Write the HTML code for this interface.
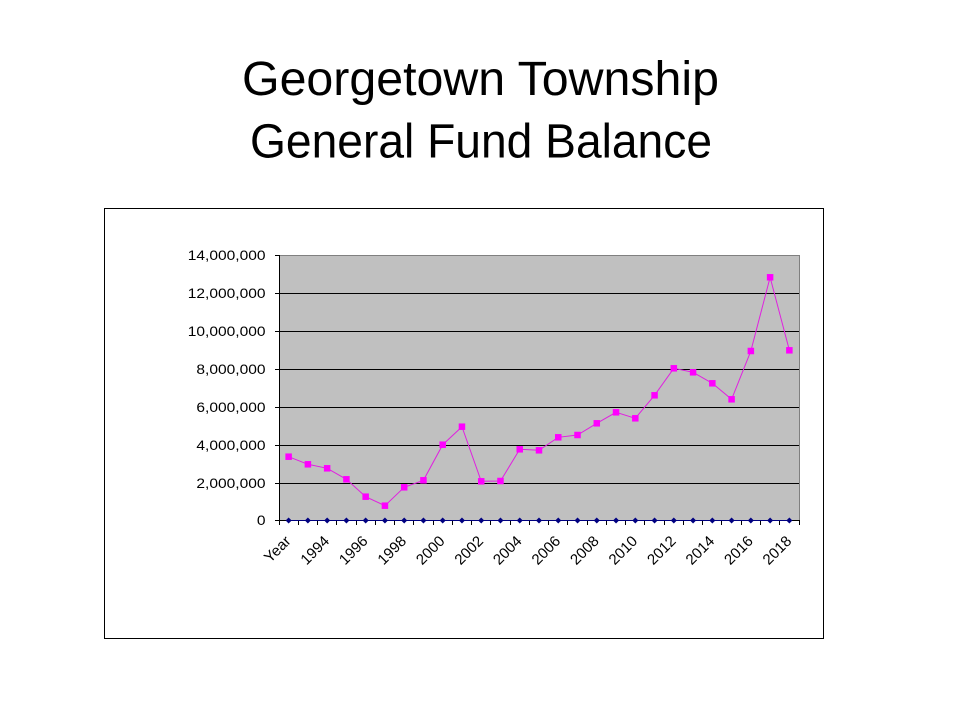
<!DOCTYPE html>
<html><head><meta charset="utf-8"><style>
html,body{margin:0;padding:0;background:#fff;}
svg{display:block;}
</style></head><body>
<svg width="960" height="720" viewBox="0 0 960 720" xmlns="http://www.w3.org/2000/svg">
<defs>
<marker id="sq" markerUnits="userSpaceOnUse" markerWidth="8" markerHeight="8" refX="4" refY="4" viewBox="0 0 8 8">
<rect x="0.75" y="0.75" width="6.5" height="6.5" fill="#FF00FF"/>
</marker>
<marker id="dm" markerUnits="userSpaceOnUse" markerWidth="8" markerHeight="8" refX="4" refY="4" viewBox="0 0 8 8">
<path d="M4,1 L7,4 L4,7 L1,4 Z" fill="#000080"/>
</marker>
</defs>
<rect width="960" height="720" fill="#fff"/>
<text x="480.5" y="95" font-family="Liberation Sans, sans-serif" font-size="48" text-anchor="middle" textLength="477" lengthAdjust="spacingAndGlyphs" fill="#000">Georgetown Township</text>
<text x="481" y="157.5" font-family="Liberation Sans, sans-serif" font-size="48" text-anchor="middle" textLength="462" lengthAdjust="spacingAndGlyphs" fill="#000">General Fund Balance</text>

<rect x="104.5" y="208.5" width="719" height="430" fill="#fff" stroke="#000" stroke-width="1"/>

<rect x="279" y="255" width="520" height="265" fill="#C0C0C0"/>
<path d="M279,255.5 H799.5 V520" stroke="#808080" stroke-width="1" fill="none"/>
<g stroke="#000" stroke-width="1" fill="none">
<path d="M279,293.5 H799 M279,331.5 H799 M279,369.5 H799 M279,407.5 H799 M279,445.5 H799 M279,483.5 H799"/>
<path d="M279.5,255 V521"/>
<path d="M275,255.5 H279 M275,293.5 H279 M275,331.5 H279 M275,369.5 H279 M275,407.5 H279 M275,445.5 H279 M275,483.5 H279 M275,520.5 H279"/>
<path d="M279,520.5 H800"/>
<path d="M279.5,520 V525 M298.5,520 V525 M317.5,520 V525 M336.5,520 V525 M356.5,520 V525 M375.5,520 V525 M394.5,520 V525 M413.5,520 V525 M433.5,520 V525 M452.5,520 V525 M471.5,520 V525 M490.5,520 V525 M510.5,520 V525 M529.5,520 V525 M548.5,520 V525 M567.5,520 V525 M587.5,520 V525 M606.5,520 V525 M625.5,520 V525 M644.5,520 V525 M664.5,520 V525 M683.5,520 V525 M702.5,520 V525 M721.5,520 V525 M741.5,520 V525 M760.5,520 V525 M779.5,520 V525 M799.5,520 V525"/>
</g>

<g font-family="Liberation Sans, sans-serif" font-size="14" fill="#000" text-anchor="end">
<text transform="translate(265.5,260) scale(1.11,1)">14,000,000</text>
<text transform="translate(265.5,298) scale(1.11,1)">12,000,000</text>
<text transform="translate(265.5,336) scale(1.11,1)">10,000,000</text>
<text transform="translate(265.5,374) scale(1.11,1)">8,000,000</text>
<text transform="translate(265.5,412) scale(1.11,1)">6,000,000</text>
<text transform="translate(265.5,450) scale(1.11,1)">4,000,000</text>
<text transform="translate(265.5,488) scale(1.11,1)">2,000,000</text>
<text transform="translate(265.5,525) scale(1.11,1)">0</text>
</g>

<g font-family="Liberation Sans, sans-serif" font-size="15" fill="#000" text-anchor="end">
<text transform="translate(291.6,542) rotate(-45)">Year</text>
<text transform="translate(330.2,542) rotate(-45)">1994</text>
<text transform="translate(368.7,542) rotate(-45)">1996</text>
<text transform="translate(407.2,542) rotate(-45)">1998</text>
<text transform="translate(445.7,542) rotate(-45)">2000</text>
<text transform="translate(484.2,542) rotate(-45)">2002</text>
<text transform="translate(522.7,542) rotate(-45)">2004</text>
<text transform="translate(561.3,542) rotate(-45)">2006</text>
<text transform="translate(599.8,542) rotate(-45)">2008</text>
<text transform="translate(638.3,542) rotate(-45)">2010</text>
<text transform="translate(676.8,542) rotate(-45)">2012</text>
<text transform="translate(715.3,542) rotate(-45)">2014</text>
<text transform="translate(753.9,542) rotate(-45)">2016</text>
<text transform="translate(792.4,542) rotate(-45)">2018</text>
</g>

<polyline fill="none" stroke="#000080" stroke-width="1" marker-start="url(#dm)" marker-mid="url(#dm)" marker-end="url(#dm)"
points="288.63,520.5 307.89,520.5 327.15,520.5 346.41,520.5 365.67,520.5 384.93,520.5 404.19,520.5 423.44,520.5 442.70,520.5 461.96,520.5 481.22,520.5 500.48,520.5 519.74,520.5 539.00,520.5 558.26,520.5 577.52,520.5 596.78,520.5 616.04,520.5 635.30,520.5 654.56,520.5 673.81,520.5 693.07,520.5 712.33,520.5 731.59,520.5 750.85,520.5 770.11,520.5 789.37,520.5"/>

<polyline fill="none" stroke="#E020E0" stroke-width="1" marker-start="url(#sq)" marker-mid="url(#sq)" marker-end="url(#sq)"
points="288.63,456.7 307.89,464.3 327.15,468.3 346.41,479.3 365.67,496.7 384.93,505.7 404.19,487.3 423.44,480.3 442.70,444.7 461.96,426.7 481.22,481.3 500.48,481.0 519.74,449.3 539.00,450.3 558.26,437.3 577.52,435.0 596.78,423.3 616.04,412.3 635.30,418.3 654.56,395.3 673.81,368.3 693.07,372.3 712.33,383.3 731.59,399.3 750.85,351.0 770.11,277.3 789.37,350.3"/>
</svg>
</body></html>
